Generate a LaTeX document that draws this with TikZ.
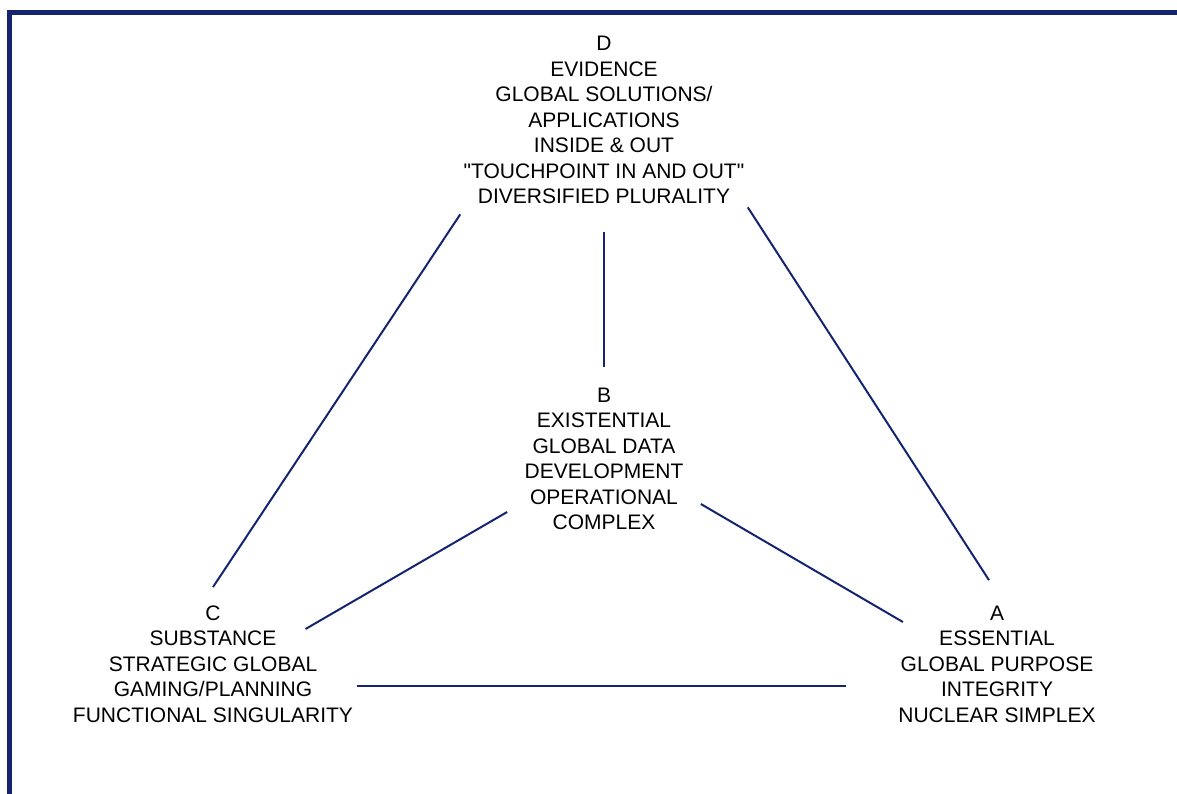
\documentclass[tikz,border=0pt]{standalone}
\usepackage{fontspec}
\setmainfont{Liberation Sans}
\definecolor{navy}{RGB}{20,36,110}
\tikzset{
  corner/.style={align=center, inner sep=3.3pt, font=\fontsize{21}{25.5}\selectfont},
  link/.style={draw=navy, line width=2pt},
}
\begin{document}
\begin{tikzpicture}[x=1pt,y=-1pt]
    \useasboundingbox (0,0) rectangle (1177,794);
    % frame
    \draw[navy,line width=5.5pt] (7,12.5) -- (1177,12.5);
    \draw[navy,line width=5pt] (9.5,10) -- (9.5,794);

    \node[corner] (D) at (604,120) {D\\EVIDENCE\\GLOBAL SOLUTIONS/\\APPLICATIONS\\INSIDE \& OUT\\\textquotedbl TOUCHPOINT IN AND OUT\textquotedbl\\DIVERSIFIED PLURALITY};
    \node[corner] (B) at (604,459) {B\\EXISTENTIAL\\GLOBAL DATA\\DEVELOPMENT\\OPERATIONAL\\COMPLEX};
    \node[corner] (C) at (213,664) {C\\SUBSTANCE\\STRATEGIC GLOBAL\\GAMING/PLANNING\\FUNCTIONAL SINGULARITY};
    \node[corner] (A) at (997,664) {A\\ESSENTIAL\\GLOBAL PURPOSE\\INTEGRITY\\NUCLEAR SIMPLEX};

    \draw[link] ([yshift=-7pt]D.south west) -- ([yshift=15pt]C.north);
    \draw[link] (D.south east) -- ([xshift=-8pt,yshift=22pt]A.north);
    \draw[link,shorten <=25pt,shorten >=17pt] (D.south) -- (B.north);
    \draw[link] ([xshift=-14pt,yshift=-53pt]B.west) -- ([xshift=-51pt,yshift=35pt]C.east);
    \draw[link] ([xshift=14pt,yshift=-45pt]B.east) -- ([xshift=8pt,yshift=42pt]A.west);
    \draw[link] ([yshift=-22pt]C.east) -- ([xshift=-49pt,yshift=-22pt]A.west);
\end{tikzpicture}
\end{document}
